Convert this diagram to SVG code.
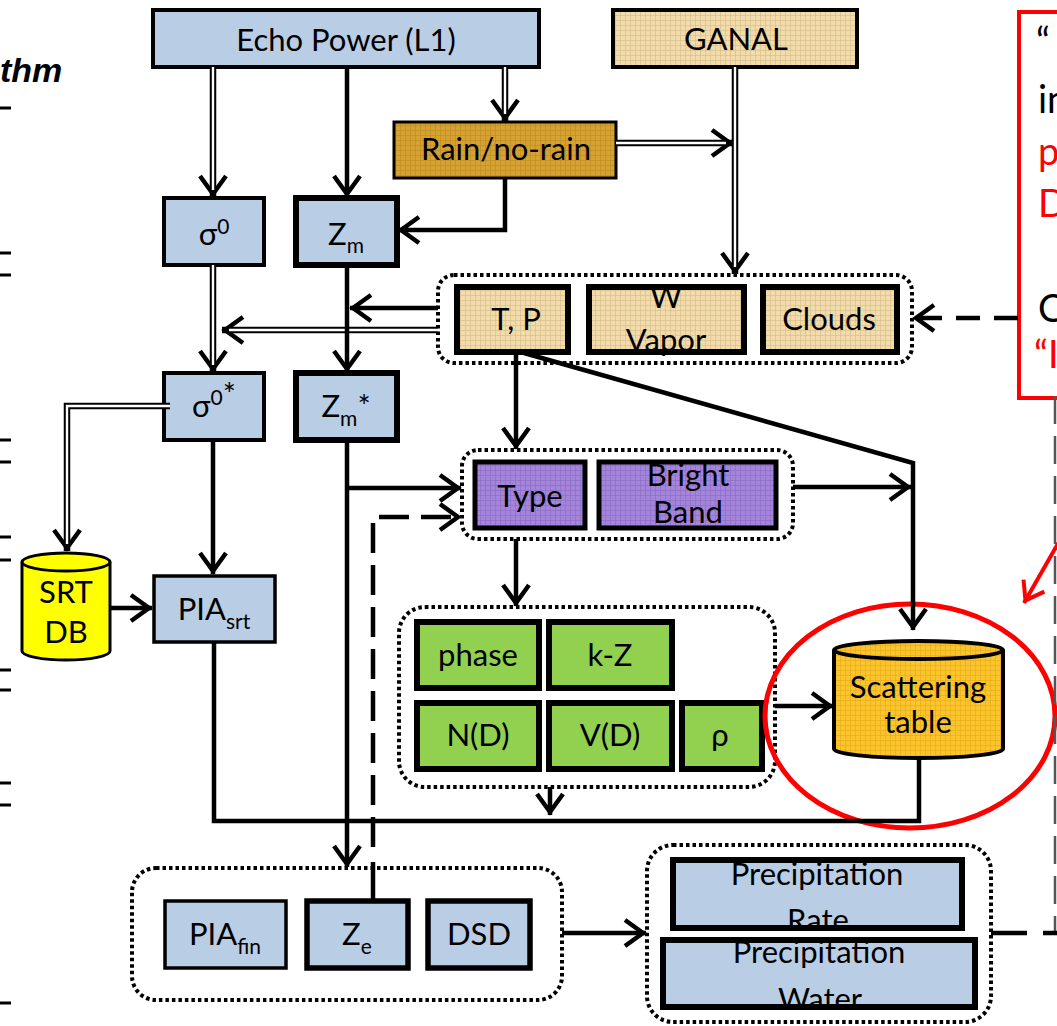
<svg xmlns="http://www.w3.org/2000/svg" width="1057" height="1026" viewBox="0 0 1057 1026">
<style>
.t{font-family:Lato,"Liberation Sans",sans-serif;font-size:31px;text-anchor:middle;fill:#000}
.s{font-size:21px}
.bx{stroke:#000;stroke-linejoin:miter}
.blue{fill:#b9cde5}
.grp{fill:none;stroke:#000;stroke-width:4;stroke-dasharray:3.5 3}
.ln{fill:none;stroke:#000;stroke-width:4.5}
.dbl{fill:none;stroke:#000;stroke-width:6.5}
.dbi{fill:none;stroke:#fff;stroke-width:2.4}
.dash{fill:none;stroke:#000;stroke-width:4.5;stroke-dasharray:30 12}
.red{font-family:Lato,"Liberation Sans",sans-serif;font-size:38px;fill:#f00}
.blk{font-family:Lato,"Liberation Sans",sans-serif;font-size:38px;fill:#000}
</style>
<defs>
<pattern id="gBeige" width="5" height="5" patternUnits="userSpaceOnUse"><rect width="5" height="5" fill="#f3dcab"/><path d="M0,0.5H5M0.5,0V5" stroke="#d8bf8c" stroke-width="0.7"/></pattern>
<pattern id="gGold" width="5" height="5" patternUnits="userSpaceOnUse"><rect width="5" height="5" fill="#d6a232"/><path d="M0,0.5H5M0.5,0V5" stroke="#bf8c22" stroke-width="0.7"/></pattern>
<pattern id="gPurp" width="5" height="5" patternUnits="userSpaceOnUse"><rect width="5" height="5" fill="#a485dc"/><path d="M0,0.5H5M0.5,0V5" stroke="#8d6ec4" stroke-width="0.7"/></pattern>
<pattern id="gOrg" width="5" height="5" patternUnits="userSpaceOnUse"><rect width="5" height="5" fill="#fcc52c"/><path d="M0,0.5H5M0.5,0V5" stroke="#e6ad1c" stroke-width="0.7"/></pattern>
<marker id="ah" viewBox="-24 -16 32 32" refX="3" refY="0" markerWidth="32" markerHeight="32" markerUnits="userSpaceOnUse" orient="auto">
<path d="M-18,-13 L0,0 L-18,13" fill="none" stroke="#000" stroke-width="4.5"/>
</marker>
<marker id="ahr" viewBox="-24 -16 32 32" refX="3" refY="0" markerWidth="32" markerHeight="32" markerUnits="userSpaceOnUse" orient="auto">
<path d="M-17,-12 L0,0 L-17,12" fill="none" stroke="#f00" stroke-width="4"/>
</marker>
</defs>
<rect width="1057" height="1026" fill="#fff"/>

<!-- left edge fragments -->
<g id="left-fragments">
<text x="0" y="82" font-family="Liberation Sans, Arial, sans-serif" font-size="34" font-weight="bold" font-style="italic">thm</text>
<path d="M0,108H11M0,253H11M0,275H11M0,440H11M0,462H11M0,537H11M0,560H11M0,670H11M0,690H11M0,783H11M0,805H11M0,1003H11" stroke="#000" stroke-width="3"/>
</g>

<!-- group boxes -->
<g id="grp-met"><rect class="grp" x="438" y="275" width="474" height="88" rx="16"/></g>
<g id="grp-type"><rect class="grp" x="462" y="450" width="331" height="89" rx="16"/></g>
<g id="grp-dsd-params"><rect class="grp" x="399" y="607" width="376" height="180" rx="26"/></g>
<g id="grp-final"><rect class="grp" x="132" y="868" width="430" height="132" rx="24"/></g>
<g id="grp-precip"><rect class="grp" x="647" y="845" width="344" height="177" rx="26"/></g>

<!-- nodes -->
<g id="echo"><rect class="bx blue" x="153" y="10" width="386" height="57" stroke-width="4"/><text class="t" x="346" y="51">Echo Power (L1)</text></g>
<g id="ganal"><rect class="bx" x="613" y="10" width="244" height="57" fill="url(#gBeige)" stroke-width="4"/><text class="t" x="736" y="50">GANAL</text></g>
<g id="rain"><rect class="bx" x="394" y="122" width="222" height="56" fill="url(#gGold)" stroke-width="3"/><text class="t" x="506" y="160">Rain/no-rain</text></g>
<g id="sigma0"><rect class="bx blue" x="164" y="198" width="100" height="67" stroke-width="4"/><text class="t" x="214" y="245">σ<tspan class="s" dy="-11">0</tspan></text></g>
<g id="zm"><rect class="bx blue" x="296" y="198" width="101" height="67" stroke-width="6"/><text class="t" x="346" y="245">Z<tspan class="s" dy="8">m</tspan></text></g>
<g id="tp"><rect class="bx" x="457" y="287" width="111" height="65" fill="url(#gBeige)" stroke-width="6"/><text class="t" x="516" y="330">T, P</text></g>
<g id="wvapor"><rect class="bx" x="589" y="287" width="155" height="65" fill="url(#gBeige)" stroke-width="6"/><text class="t" x="666" y="308">W</text><text class="t" x="666" y="351">Vapor</text></g>
<g id="clouds"><rect class="bx" x="763" y="287" width="134" height="65" fill="url(#gBeige)" stroke-width="6"/><text class="t" x="829" y="330">Clouds</text></g>
<g id="sigma0s"><rect class="bx blue" x="164" y="373" width="100" height="67" stroke-width="4"/><text class="t" x="214" y="417">σ<tspan class="s" dy="-12">0</tspan><tspan dy="0">*</tspan></text></g>
<g id="zms"><rect class="bx blue" x="296" y="373" width="101" height="67" stroke-width="6"/><text class="t" x="346" y="417">Z<tspan class="s" dy="9">m</tspan><tspan dy="-9">*</tspan></text></g>
<g id="type"><rect class="bx" x="475" y="462" width="110" height="66" fill="url(#gPurp)" stroke-width="5"/><text class="t" x="530" y="507">Type</text></g>
<g id="bband"><rect class="bx" x="599" y="462" width="177" height="66" fill="url(#gPurp)" stroke-width="5"/><text class="t" x="688" y="486">Bright</text><text class="t" x="688" y="523">Band</text></g>
<g id="srtdb"><path d="M22,562 V651 A44,9 0 0 0 110,651 V562 A44,9 0 0 0 22,562 Z" fill="#ffff00" stroke="#000" stroke-width="3"/><path d="M22,562 A44,9 0 0 0 110,562" fill="none" stroke="#000" stroke-width="3"/><text class="t" x="66" y="603">SRT</text><text class="t" x="66" y="643">DB</text></g>
<g id="piasrt"><rect class="bx blue" x="154" y="576" width="121" height="66" stroke-width="3.5"/><text class="t" x="214" y="620">PIA<tspan class="s" dy="9">srt</tspan></text></g>
<g id="phase"><rect class="bx" x="417" y="622" width="122" height="66" fill="#92d050" stroke-width="6"/><text class="t" x="478" y="666">phase</text></g>
<g id="kz"><rect class="bx" x="549" y="622" width="123" height="66" fill="#92d050" stroke-width="6"/><text class="t" x="610" y="666">k-Z</text></g>
<g id="nd"><rect class="bx" x="417" y="703" width="122" height="66" fill="#92d050" stroke-width="6"/><text class="t" x="478" y="746">N(D)</text></g>
<g id="vd"><rect class="bx" x="549" y="703" width="123" height="66" fill="#92d050" stroke-width="6"/><text class="t" x="610" y="746">V(D)</text></g>
<g id="rho"><rect class="bx" x="682" y="703" width="80" height="66" fill="#92d050" stroke-width="6"/><text class="t" x="720" y="746">ρ</text></g>
<g id="scat"><path d="M834,650 V749 A84.5,9 0 0 0 1003,749 V650 A84.5,9 0 0 0 834,650 Z" fill="url(#gOrg)" stroke="#000" stroke-width="4"/><path d="M834,650 A84.5,9 0 0 0 1003,650" fill="none" stroke="#000" stroke-width="4"/><text class="t" x="918" y="698" font-size="27">Scattering</text><text class="t" x="918" y="733" font-size="27">table</text></g>
<g id="piafin"><rect class="bx blue" x="165" y="901" width="121" height="67" stroke-width="3.5"/><text class="t" x="225" y="945">PIA<tspan class="s" dy="9">fin</tspan></text></g>
<g id="ze"><rect class="bx blue" x="307" y="901" width="101" height="67" stroke-width="5.5"/><text class="t" x="357" y="945">Z<tspan class="s" dy="9">e</tspan></text></g>
<g id="dsd"><rect class="bx blue" x="428" y="901" width="102" height="67" stroke-width="5.5"/><text class="t" x="479" y="945">DSD</text></g>
<g id="prate"><rect class="blue" x="673" y="860" width="289" height="68"/><text class="t" x="817" y="885">Precipitation</text><text class="t" x="818" y="931">Rate</text><rect x="673" y="860" width="289" height="68" fill="none" stroke="#000" stroke-width="6"/></g>
<g id="pwater"><rect class="blue" x="663" y="940" width="312" height="67"/><text class="t" x="819" y="963">Precipitation</text><text class="t" x="820" y="1010">Water</text><rect x="663" y="940" width="312" height="67" fill="none" stroke="#000" stroke-width="6"/></g>

<!-- red annotation -->
<g id="note">
<rect x="1019" y="12" width="60" height="386" fill="none" stroke="#f00" stroke-width="4"/>
<text class="blk" x="1036" y="55">“</text>
<text class="blk" x="1038" y="113">in</text>
<text class="red" x="1038" y="165">p</text>
<text class="red" x="1038" y="217">D</text>
<text class="blk" x="1038" y="322">C</text>
<text class="red" x="1034" y="368">“I</text>
</g>
<g id="highlight">
<ellipse cx="910" cy="716" rx="145" ry="112" fill="none" stroke="#f00" stroke-width="5"/>
</g>
<g id="right-fragments">
<path d="M1055,396V935" stroke="#555" stroke-width="2.5" stroke-dasharray="28 12"/>
</g>

<!-- connectors -->
<g id="connectors">
<path class="dbl" d="M213,67V197" marker-end="url(#ah)"/><path class="dbi" d="M213,67V190"/>
<path class="ln" d="M347,67V197" marker-end="url(#ah)"/>
<path class="dbl" d="M505,67V121" marker-end="url(#ah)"/><path class="dbi" d="M505,67V114"/>
<path class="ln" d="M505,178V230H398" marker-end="url(#ah)"/>
<path class="dbl" d="M616,143H733" marker-end="url(#ah)"/><path class="dbi" d="M616,143H726"/>
<path class="dbl" d="M735,67V274" marker-end="url(#ah)"/><path class="dbi" d="M735,67V267"/>
<path class="ln" d="M438,308H350" marker-end="url(#ah)"/>
<path class="dbl" d="M438,330H222" marker-end="url(#ah)"/><path class="dbi" d="M438,330H229"/>
<path class="dbl" d="M213,265V372" marker-end="url(#ah)"/><path class="dbi" d="M213,265V365"/>
<path class="ln" d="M347,265V372" marker-end="url(#ah)"/>
<path class="dbl" d="M170,406H67V551" marker-end="url(#ah)"/><path class="dbi" d="M170,406H67V544"/>
<path class="ln" d="M213,440V574" marker-end="url(#ah)"/>
<path class="ln" d="M110,608H152" marker-end="url(#ah)"/>
<path class="ln" d="M347,440V867" marker-end="url(#ah)"/>
<path class="ln" d="M347,488H461" marker-end="url(#ah)"/>
<path class="dash" d="M373,847V517H461" marker-end="url(#ah)"/>
<path class="ln" d="M373,862V901"/>
<path class="ln" d="M516,352V449" marker-end="url(#ah)"/>
<path class="ln" d="M524,353L913,463V630" marker-end="url(#ah)"/>
<path class="ln" d="M793,487H911" marker-end="url(#ah)"/>
<path class="ln" d="M516,539V606" marker-end="url(#ah)"/>
<path class="ln" d="M775,706H833" marker-end="url(#ah)"/>
<path class="ln" d="M550,787V815" marker-end="url(#ah)"/>
<path class="ln" d="M214,642V821H919V758"/>
<path class="ln" d="M562,933H646" marker-end="url(#ah)"/>
<path class="ln" d="M1018,318H913" stroke-dasharray="24 14" marker-end="url(#ah)"/>
<path class="ln" d="M991,933H1057" stroke-dasharray="36 16"/>
<path d="M1060,540L1024,603" fill="none" stroke="#f00" stroke-width="4" marker-end="url(#ahr)"/>
</g>
</svg>
